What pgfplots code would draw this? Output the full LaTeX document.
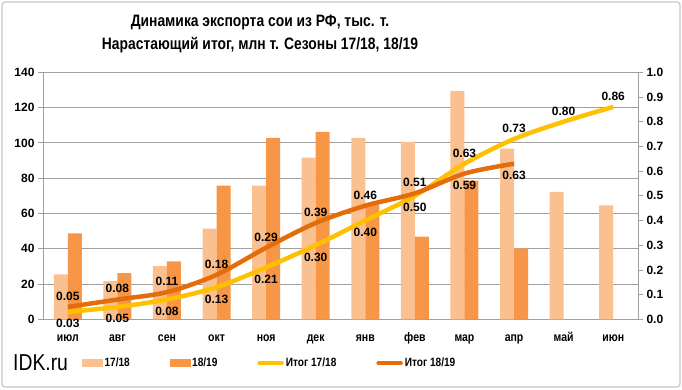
\documentclass[border=0pt]{standalone}
\usepackage{pgfplots}
\pgfplotsset{compat=1.18}
\usepackage{fontspec}
\setmainfont{Liberation Sans}[FakeStretch=0.84]
\newfontfamily\numfont{Liberation Sans}
\definecolor{bA}{HTML}{FAC090}
\definecolor{bB}{HTML}{F79646}
\definecolor{lA}{HTML}{FFC000}
\definecolor{lB}{HTML}{E46C0A}
\definecolor{gridc}{HTML}{A0A0A0}
\begin{document}
\begin{tikzpicture}[x=1pt,y=1pt]
\useasboundingbox (0,0) rectangle (682,389);
\draw[color=gray!45, line width=1.2pt, rounded corners=3pt] (2,2) rectangle (680,387);
\node[align=center, font=\bfseries\fontsize{16.5}{23}\selectfont] at (260,355.5) {Динамика экспорта сои из РФ, тыс. т.\\Нарастающий итог, млн т. Сезоны 17/18, 18/19};
\node[anchor=west, inner sep=0pt, font=\fontsize{23}{23}\selectfont] at (13,26) {IDK.ru};
\begin{axis}[
  at={(43pt,69.7pt)}, anchor=south west, scale only axis,
  width=595pt, height=247pt,
  xmin=-0.5, xmax=11.5, ymin=0, ymax=140,
  ytick={0,20,...,140},
  ymajorgrids, grid style={gridc, line width=0.8pt},
  axis x line*=bottom, axis y line*=left,
  axis line style={gridc, line width=0.8pt},
  xtick={0,...,11},
  xticklabels={июл,авг,сен,окт,ноя,дек,янв,фев,мар,апр,май,июн},
  xticklabel style={font=\bfseries\fontsize{12.5}{12.5}\selectfont, text height=9pt, text depth=2.5pt, yshift=-5pt},
  yticklabel style={font=\numfont\bfseries\fontsize{12}{12}\selectfont},
  major x tick style={draw=none},
  extra x ticks={-0.5,0.5,...,11.5}, extra x tick labels={},
  extra x tick style={grid=none, major tick length=5pt, tick style={gridc, line width=0.8pt}},
  tick align=outside, major tick length=5pt,
  tick style={gridc, line width=0.8pt},
  /pgf/number format/assume math mode=true,
  ybar=0pt, bar width=14pt,
]
\addplot[fill=bA, draw=none] coordinates {(0,25.5) (1,21.7) (2,30.2) (3,51.4) (4,75.8) (5,91.6) (6,102.8) (7,100.5) (8,129.4) (9,96.7) (10,72.2) (11,64.6)};
\addplot[fill=bB, draw=none] coordinates {(0,48.7) (1,26.2) (2,32.9) (3,75.8) (4,102.8) (5,106.2) (6,64.8) (7,46.8) (8,78.6) (9,40.2)};
\end{axis}
\begin{axis}[
  at={(43pt,69.7pt)}, anchor=south west, scale only axis,
  width=595pt, height=247pt,
  xmin=-0.5, xmax=11.5, ymin=0, ymax=1,
  axis x line=none, axis y line*=right,
  axis line style={gridc, line width=0.8pt},
  ytick={0,0.1,...,1.01},
  tick align=outside, major tick length=5pt,
  tick style={gridc, line width=0.8pt},
  yticklabel style={/pgf/number format/.cd, fixed, fixed zerofill, precision=1},
  tick label style={font=\numfont\bfseries\fontsize{12}{12}\selectfont},
  /pgf/number format/assume math mode=true,
  legend columns=4,
  legend style={at={(0.0655,-0.177)}, anchor=west, draw=none, fill=none, inner sep=0pt,
    font=\bfseries\fontsize{12}{12}\selectfont,
    /tikz/every even column/.append style={column sep=38pt}},
  every node near coord/.append style={font=\numfont\bfseries\fontsize{12}{12}\selectfont, text=black},
]
\addlegendimage{legend image code/.code={\fill[bA] (0pt,-3.5pt) rectangle (20pt,3.5pt);}}
\addlegendentry{17/18}
\addlegendimage{legend image code/.code={\fill[bB] (0pt,-3.5pt) rectangle (20pt,3.5pt);}}
\addlegendentry{18/19}
\addplot[smooth, color=lA, line width=4.5pt, mark=none,
  legend image code/.code={\draw[lA, line width=4.5pt, line cap=round] (0pt,0pt) -- (22pt,0pt);}]
  coordinates {(0,0.03) (1,0.05) (2,0.08) (3,0.13) (4,0.21) (5,0.30) (6,0.40) (7,0.50) (8,0.63) (9,0.73) (10,0.80) (11,0.86)};
\addlegendentry{Итог 17/18}
\addplot[smooth, color=lB, line width=4.5pt, mark=none,
  legend image code/.code={\draw[lB, line width=4.5pt, line cap=round] (0pt,0pt) -- (22pt,0pt);}]
  coordinates {(0,0.05) (1,0.08) (2,0.11) (3,0.18) (4,0.29) (5,0.39) (6,0.46) (7,0.51) (8,0.59) (9,0.63)};
\addlegendentry{Итог 18/19}
% labels
\addplot[draw=none, mark=none, forget plot, nodes near coords, point meta=explicit symbolic,
  every node near coord/.append style={anchor=north, yshift=-4pt}]
  coordinates {(0,0.03)[0.03] (1,0.05)[0.05] (2,0.08)[0.08] (3,0.13)[0.13] (4,0.21)[0.21] (5,0.30)[0.30] (6,0.40)[0.40] (7,0.50)[0.50]};
\addplot[draw=none, mark=none, forget plot, nodes near coords, point meta=explicit symbolic,
  every node near coord/.append style={anchor=south, yshift=3pt}]
  coordinates {(8,0.63)[0.63] (9,0.73)[0.73] (10,0.80)[0.80] (11,0.86)[0.86]};
\addplot[draw=none, mark=none, forget plot, nodes near coords, point meta=explicit symbolic,
  every node near coord/.append style={anchor=south, yshift=3pt}]
  coordinates {(0,0.05)[0.05] (1,0.08)[0.08] (2,0.11)[0.11] (3,0.18)[0.18] (4,0.29)[0.29] (5,0.39)[0.39] (6,0.46)[0.46] (7,0.51)[0.51]};
\addplot[draw=none, mark=none, forget plot, nodes near coords, point meta=explicit symbolic,
  every node near coord/.append style={anchor=north, yshift=-4pt}]
  coordinates {(8,0.59)[0.59] (9,0.63)[0.63]};
\end{axis}
\end{tikzpicture}
\end{document}
